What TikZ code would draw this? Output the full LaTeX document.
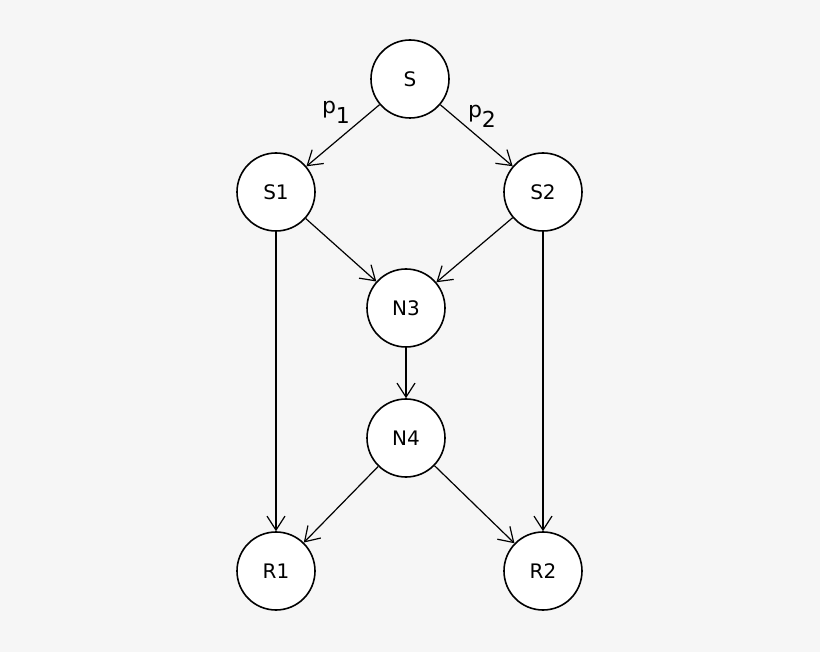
\documentclass[tikz,border=0pt]{standalone}
\usepackage{fontspec}
\setmainfont{DejaVu Sans}
\usetikzlibrary{arrows.meta}
\definecolor{bg}{HTML}{F6F6F6}
\begin{document}
\begin{tikzpicture}[x=0.5pt,y=-0.5pt,
	state/.style={circle, draw, thick, fill=white, minimum size=39pt, inner sep=0pt, font=\fontsize{10}{12}\selectfont},
	edge/.style={-{Straight Barb[length=7pt,width=9pt]}, semithick}]
	\fill[bg] (0,0) rectangle (820,652);
	\useasboundingbox (0,0) rectangle (820,652);

	% nodes
	\node[state] (S) at (410,79) {S};
	\node[state] (S1) at (276,192) {S1};
	\node[state] (S2) at (543,192) {S2};
	\node[state] (N3) at (406,308) {N3};
	\node[state] (N4) at (406,438) {N4};
	\node[state] (R1) at (276,571) {R1};
	\node[state] (R2) at (543,571) {R2};

	% edges
	\draw[edge] (S) -- (S1);
	\draw[edge] (S) -- (S2);
	\draw[edge] (S1) -- (N3);
	\draw[edge] (S2) -- (N3);
	\draw[edge] (N3) -- (N4);
	\draw[edge] (S1) -- (R1);
	\draw[edge] (S2) -- (R2);
	\draw[edge] (N4) -- (R1);
	\draw[edge] (N4) -- (R2);

	% path labels
	\node[font=\fontsize{11}{13}\selectfont] (p1) at (336,112) {p\raisebox{-5pt}{1}};
	\node[font=\fontsize{11}{13}\selectfont] (p2) at (482,116) {p\raisebox{-5pt}{2}};
\end{tikzpicture}
\end{document}
